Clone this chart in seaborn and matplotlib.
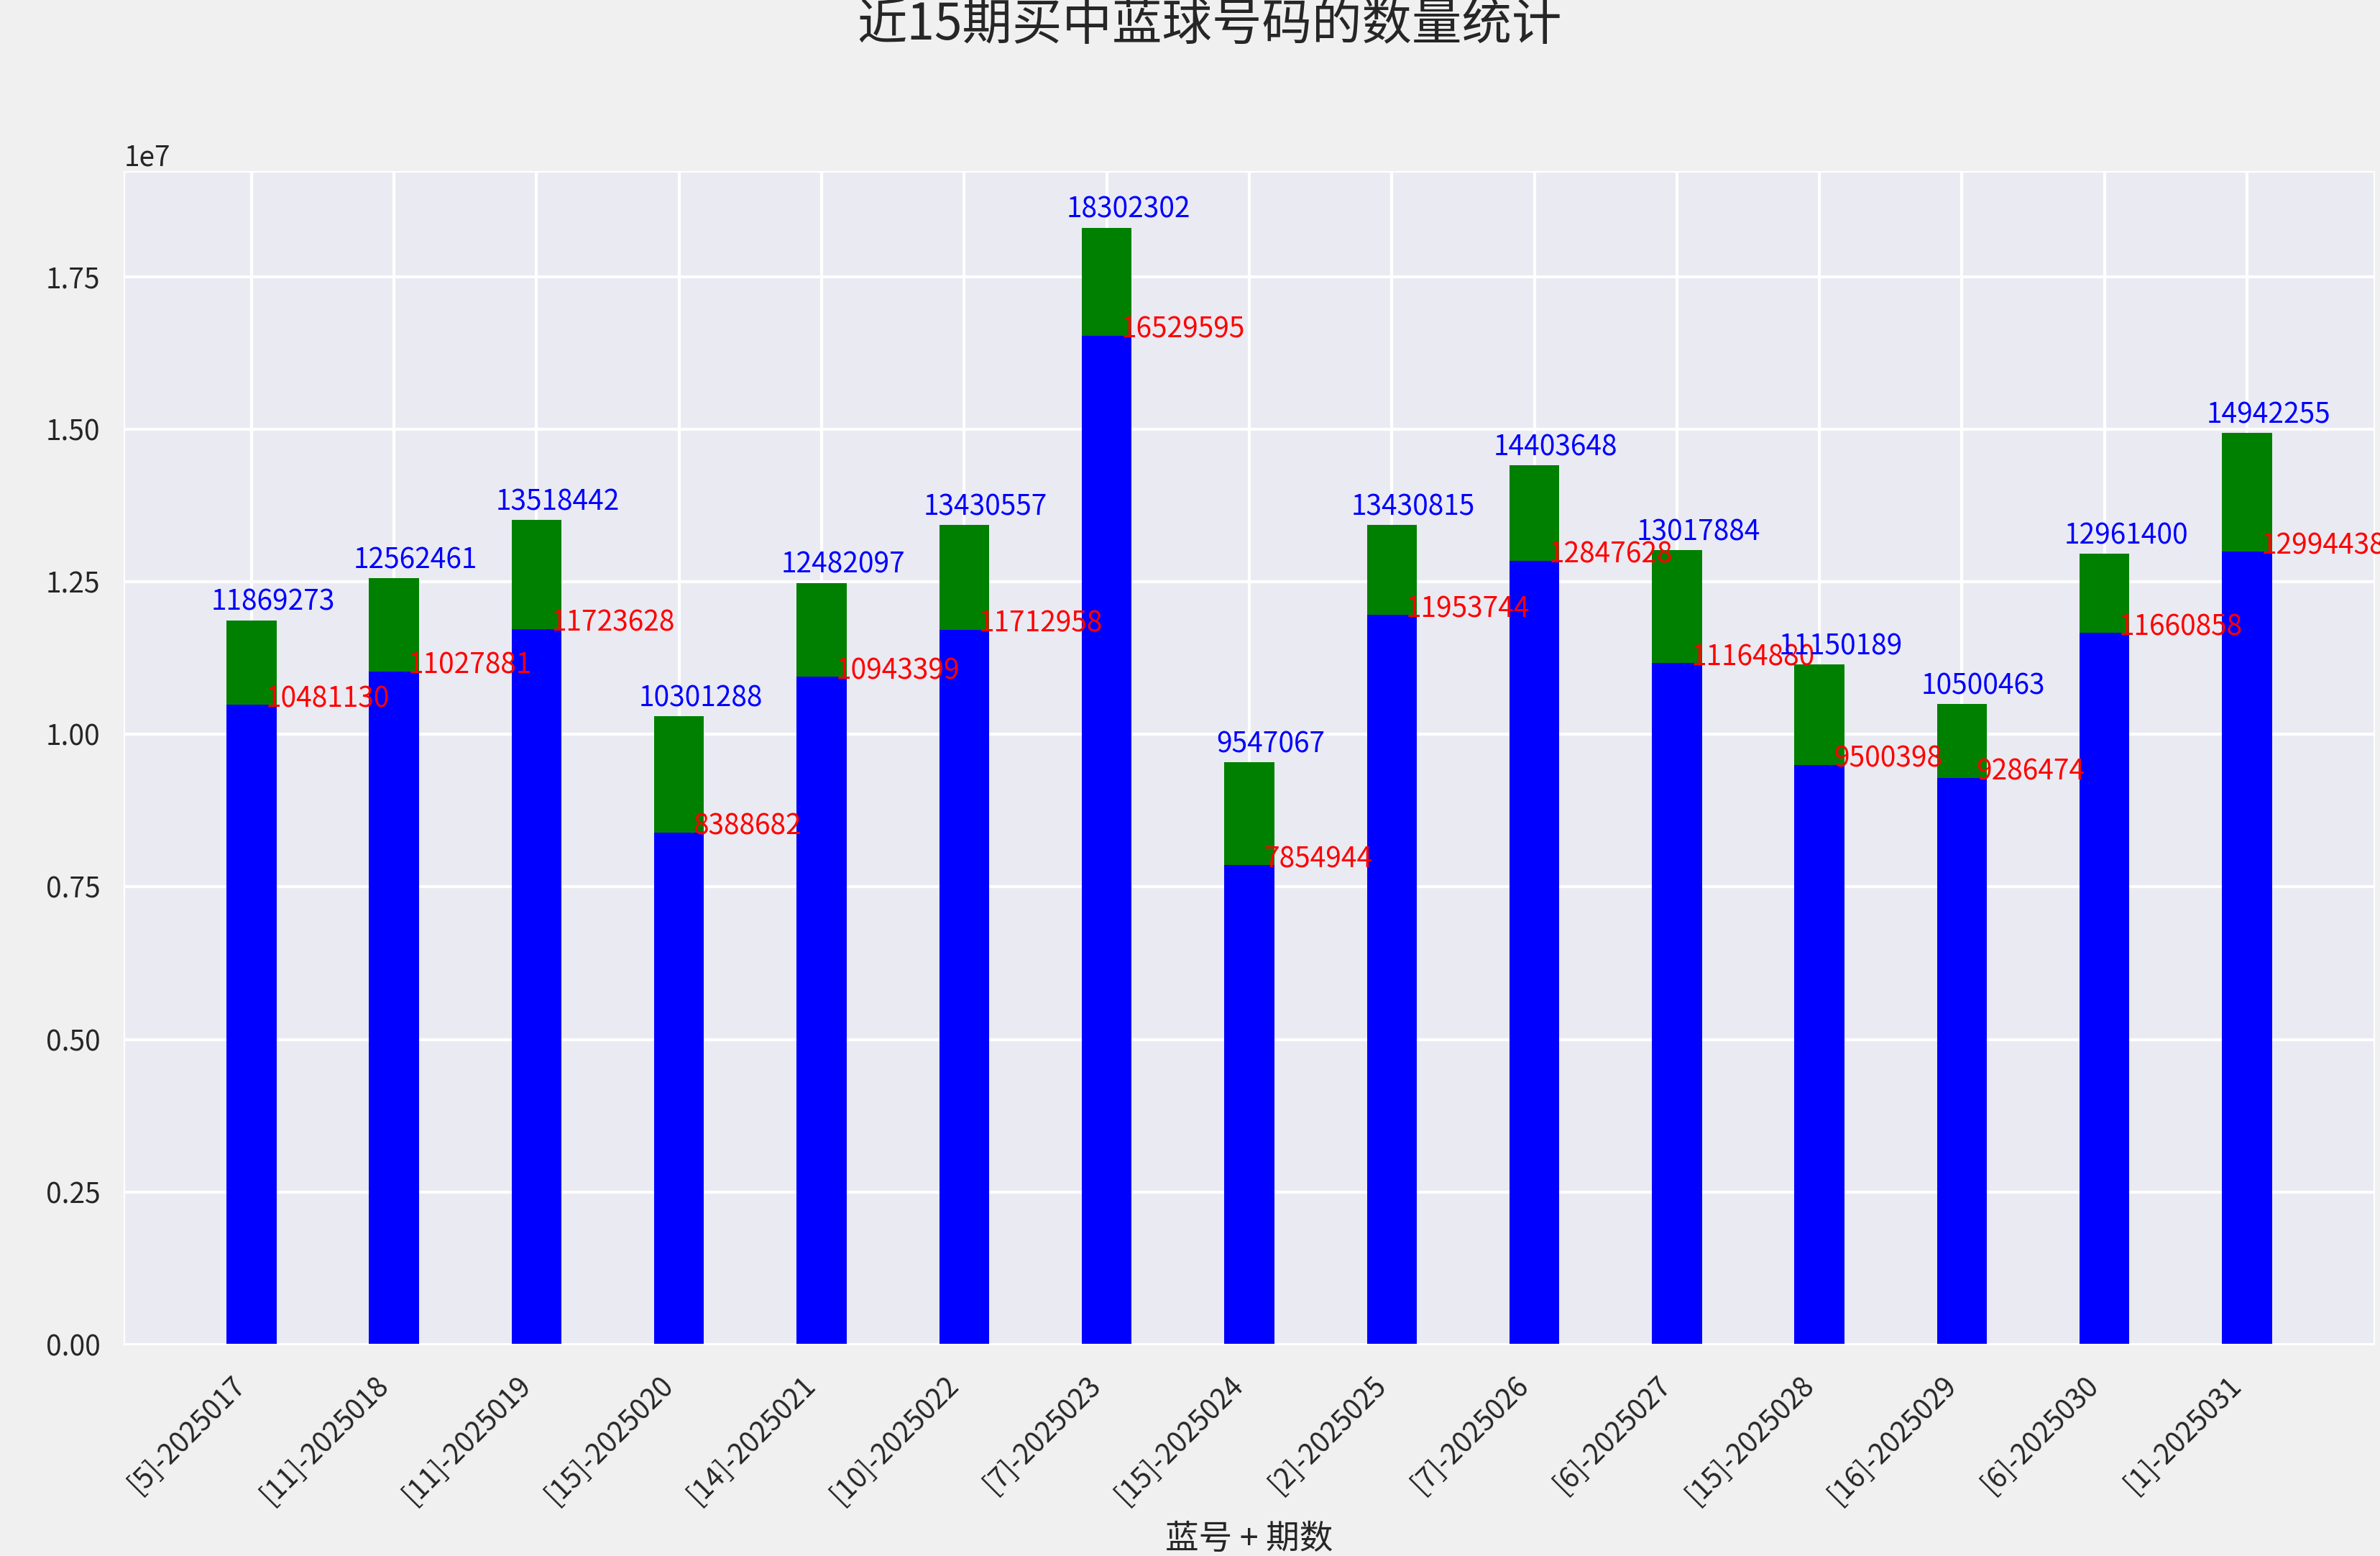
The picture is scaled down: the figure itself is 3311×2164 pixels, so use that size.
import matplotlib
matplotlib.use('Agg')
import matplotlib.pyplot as plt
import pandas as pd
import numpy as np
import seaborn as sns

# 蓝号 + 期数
labels = ['[5]-2025017', '[11]-2025018', '[11]-2025019', '[15]-2025020', '[14]-2025021',
          '[10]-2025022', '[7]-2025023', '[15]-2025024', '[2]-2025025', '[7]-2025026',
          '[6]-2025027', '[15]-2025028', '[16]-2025029', '[6]-2025030', '[1]-2025031']
# total count (top of green bar, blue labels)
totals = [11869273, 12562461, 13518442, 10301288, 12482097,
          13430557, 18302302, 9547067, 13430815, 14403648,
          13017884, 11150189, 10500463, 12961400, 14942255]
# blue part (red labels)
blue_counts = [10481130, 11027881, 11723628, 8388682, 10943399,
               11712958, 16529595, 7854944, 11953744, 12847628,
               11164880, 9500398, 9286474, 11660858, 12994438]

df = pd.DataFrame({'label': labels, 'total': totals, 'blue': blue_counts})

sns.set_style('darkgrid')
plt.rcParams['font.family'] = ['Noto Sans CJK SC', 'DejaVu Sans']
plt.rcParams['font.size'] = 14
plt.rcParams['axes.unicode_minus'] = False
plt.rcParams['figure.facecolor'] = '#f0f0f0'
plt.rcParams['savefig.facecolor'] = '#f0f0f0'
plt.rcParams['grid.linewidth'] = 1.5

fig = plt.figure(figsize=(16.56, 10.82), dpi=200)
ax = fig.add_axes([0.0522, 0.1359, 0.9451, 0.7537])

# green = total, blue drawn over it
sns.barplot(data=df, x='label', y='total', color='green', width=0.35,
            saturation=1, linewidth=0, errorbar=None, ax=ax)
sns.barplot(data=df, x='label', y='blue', color='blue', width=0.35,
            saturation=1, linewidth=0, errorbar=None, ax=ax)

ax.set_xlim(-0.8925, len(labels) - 1 + 0.8925)
ax.set_ylim(0, max(totals) * 1.05)
ax.grid(True, axis='both', color='white')
ax.set_axisbelow(True)

for i, (t, b) in enumerate(zip(totals, blue_counts)):
    ax.text(i + 0.15, t + 1.6e5, str(t), color='blue', ha='center', va='baseline', fontsize=14)
    ax.text(i + 0.1, b - 3.5e4, str(b), color='red', ha='left', va='baseline', fontsize=14)

ax.tick_params(axis='both', length=0, labelsize=14, colors='#262626')
ax.tick_params(axis='y', pad=12)
ax.tick_params(axis='x', pad=13)
plt.setp(ax.get_xticklabels(), rotation=45, ha='right')

ax.set_xlabel('蓝号 + 期数', fontsize=16.8, color='#262626')
ax.set_ylabel('数量', fontsize=16.8, color='#262626')
ax.xaxis.set_label_coords(0.5, -0.151)
ax.yaxis.set_label_coords(-0.058, 0.5)

fig.text(0.508, 0.984, '近15期买中蓝球号码的数量统计', fontsize=25, color='#262626',
         ha='center', va='center')

fig.savefig('out.png', dpi=200)
